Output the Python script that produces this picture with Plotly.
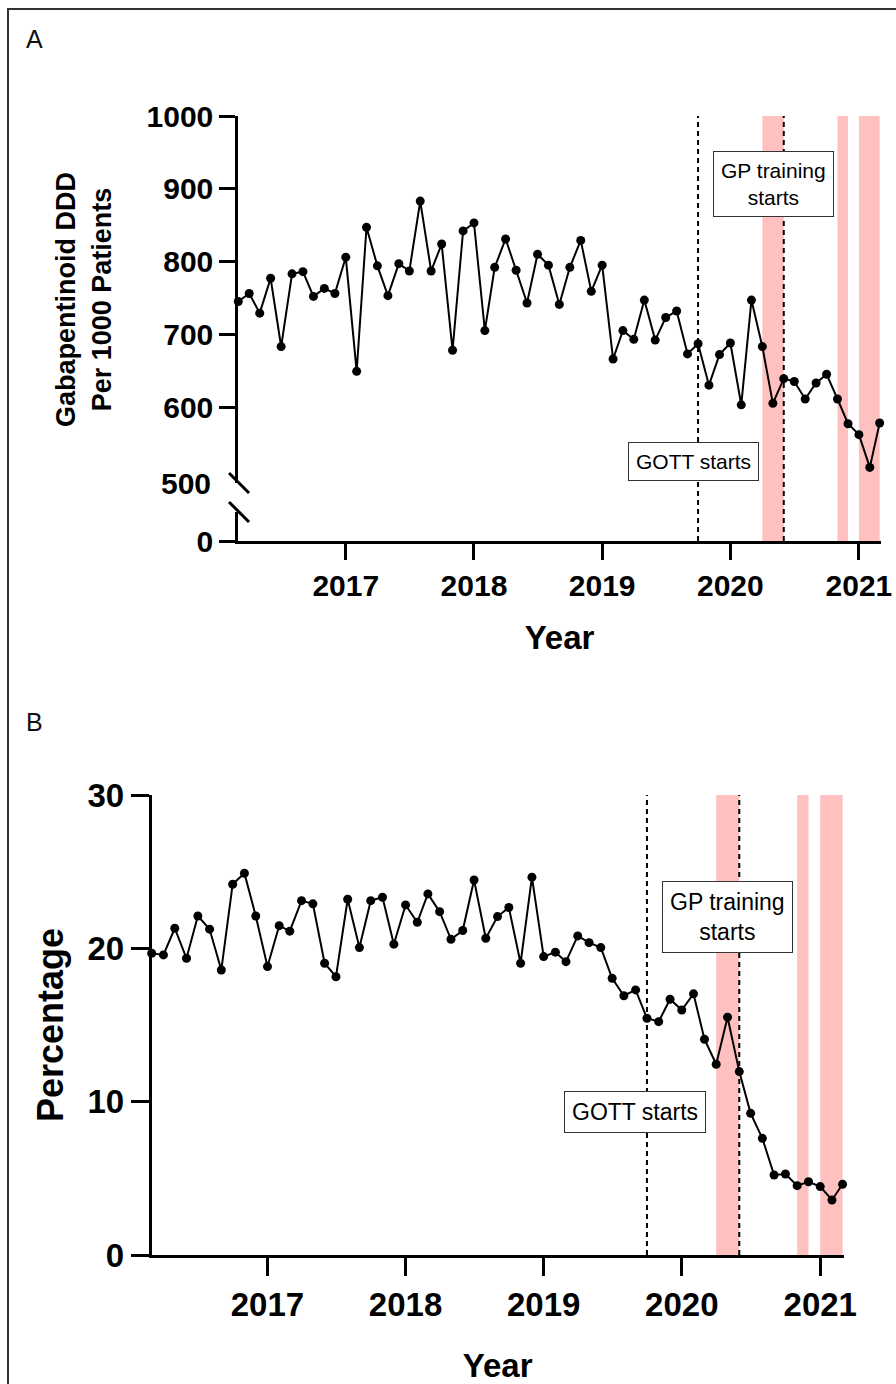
import pandas as pd
import plotly.graph_objects as go

# ---------------- data ----------------
months = pd.date_range("2016-03-01", "2021-03-01", freq="MS").strftime("%Y-%m-%d").tolist()

ddd_per_1000 = [745, 756, 729, 777, 683, 783, 786, 752, 763, 756, 806, 649,
                847, 794, 753, 797, 787, 883, 787, 824, 678, 842, 853, 705,
                792, 831, 788, 743, 810, 795, 741, 792, 829, 759, 795, 666,
                705, 693, 747, 692, 723, 732, 673, 687, 630, 672, 688, 603,
                747, 683, 605, 639, 635, 611, 633, 645, 611, 577, 562, 517, 578]

percentage = [19.68, 19.57, 21.31, 19.35, 22.11, 21.25, 18.59, 24.18, 24.90, 22.11,
              18.81, 21.48, 21.12, 23.11, 22.90, 19.03, 18.15, 23.20, 20.05, 23.11,
              23.33, 20.27, 22.83, 21.70, 23.55, 22.39, 20.59, 21.16, 24.46, 20.66,
              22.07, 22.66, 19.03, 24.64, 19.46, 19.75, 19.13, 20.81, 20.37, 20.05,
              18.05, 16.91, 17.29, 15.44, 15.22, 16.68, 15.98, 17.03, 14.07, 12.44,
              15.51, 11.96, 9.24, 7.61, 5.22, 5.28, 4.52, 4.78, 4.46, 3.59, 4.61]

year_ticks = ["2017-01-01", "2018-01-01", "2019-01-01", "2020-01-01", "2021-01-01"]
year_labels = ["2017", "2018", "2019", "2020", "2021"]

event_dates = ["2019-10-01", "2020-06-01"]          # GOTT starts, GP training starts
lockdowns = [("2020-04-01", "2020-06-01"),
             ("2020-11-01", "2020-12-01"),
             ("2021-01-01", "2021-03-01")]

ddd_ticks = [600, 700, 800, 900, 1000]
pct_ticks = [0, 10, 20, 30]

# ---------------- helpers (pixel -> paper) ----------------
W, H = 896, 1384
def X(p):
    return p / W
def Y(p):
    return 1 - p / H

FONT = "Liberation Sans, Arial, Helvetica, sans-serif"
XRANGE = ["2016-03-01", "2021-03-04"]

fig = go.Figure()

fig.add_trace(go.Scatter(
    x=months, y=ddd_per_1000, xaxis="x", yaxis="y",
    mode="lines+markers", line=dict(color="black", width=2),
    marker=dict(color="black", size=9), cliponaxis=False, showlegend=False))

# empty trace that registers the lower (0) segment of the broken axis in panel A
fig.add_trace(go.Scatter(x=[], y=[], xaxis="x", yaxis="y3", mode="markers",
                         showlegend=False))

fig.add_trace(go.Scatter(
    x=months, y=percentage, xaxis="x2", yaxis="y2",
    mode="lines+markers", line=dict(color="black", width=2),
    marker=dict(color="black", size=9), cliponaxis=False, showlegend=False))

axis_common = dict(showline=True, linecolor="black", linewidth=3, ticks="outside",
                   tickcolor="black", tickwidth=3, showgrid=False, zeroline=False,
                   fixedrange=True, automargin=False)

# Panel A axes (broken y axis)
A_PX_PER_UNIT = (407 - 116) / 400.0
fig.update_layout(
    xaxis=dict(domain=[X(238.3), X(880.7)], anchor="y3", type="date", range=XRANGE,
               tickvals=year_ticks, ticktext=year_labels, ticklen=16,
               tickfont=dict(family=FONT, size=30, color="black", weight="bold"),
               title=dict(text="Year", standoff=25,
                          font=dict(family=FONT, size=33, color="black", weight="bold")),
               **axis_common),
    yaxis=dict(domain=[Y(483), Y(116)], anchor="x",
               range=[1000 - (483 - 116) / A_PX_PER_UNIT, 1000],
               tickvals=ddd_ticks, ticklen=16, ticklabelstandoff=0,
               tickfont=dict(family=FONT, size=30, color="black", weight="bold"),
               title=dict(text="Gabapentinoid DDD<br>Per 1000 Patients", standoff=28,
                          font=dict(family=FONT, size=27, color="black", weight="bold")),
               **axis_common),
    yaxis3=dict(domain=[Y(541), Y(512)], anchor="x",
                range=[0, (541 - 512) / A_PX_PER_UNIT],
                tickvals=[0], ticklen=16, ticklabelstandoff=0,
                tickfont=dict(family=FONT, size=30, color="black", weight="bold"),
                **axis_common),
    xaxis2=dict(domain=[X(151.7), X(843.7)], anchor="y2", type="date", range=XRANGE,
                tickvals=year_ticks, ticktext=year_labels, ticklen=18,
                tickfont=dict(family=FONT, size=33, color="black", weight="bold"),
                title=dict(text="Year", standoff=35,
                           font=dict(family=FONT, size=33, color="black", weight="bold")),
                **axis_common),
    yaxis2=dict(domain=[Y(1255), Y(795)], anchor="x2", range=[0, 30],
                tickvals=pct_ticks, ticklen=18, ticklabelstandoff=0,
                tickfont=dict(family=FONT, size=33, color="black", weight="bold"),
                title=dict(text="Percentage", standoff=13,
                           font=dict(family=FONT, size=36, color="black", weight="bold")),
                **axis_common),
)

shapes = []
# outer frame
shapes.append(dict(type="rect", xref="paper", yref="paper", x0=X(8), x1=X(905),
                   y0=Y(9), y1=Y(1400), line=dict(color="#333333", width=2),
                   fillcolor="rgba(0,0,0,0)", layer="above"))

for xr, top, bot in (("x", 116, 541), ("x2", 795, 1255)):
    for a, b in lockdowns:
        shapes.append(dict(type="rect", xref=xr, yref="paper", x0=a, x1=b,
                           y0=Y(bot), y1=Y(top), fillcolor="#FFC0C0",
                           line=dict(width=0), layer="below"))
    for d in event_dates:
        shapes.append(dict(type="line", xref=xr, yref="paper", x0=d, x1=d,
                           y0=Y(bot), y1=Y(top),
                           line=dict(color="black", width=2, dash="5px,4px"),
                           layer="above"))

# axis break marks on panel A
for cy in (483, 512):
    shapes.append(dict(type="line", xref="paper", yref="paper",
                       x0=X(229), y0=Y(cy - 10), x1=X(249), y1=Y(cy + 10),
                       line=dict(color="black", width=3)))
fig.update_layout(shapes=shapes)

box = dict(bgcolor="white", bordercolor="#333333", borderwidth=1, borderpad=7,
           showarrow=False, xref="paper", yref="paper", xanchor="center", yanchor="middle")
annotations = [
    dict(text="GP training<br>starts", x=X(773.5), y=Y(183.5),
         font=dict(family=FONT, size=21, color="black"), **box),
    dict(text="GOTT starts", x=X(693.5), y=Y(461.5),
         font=dict(family=FONT, size=21, color="black"), **box),
    dict(text="GP training<br>starts", x=X(727.5), y=Y(917),
         font=dict(family=FONT, size=23, color="black"), **box),
    dict(text="GOTT starts", x=X(635), y=Y(1112),
         font=dict(family=FONT, size=23, color="black"), **box),
    dict(text="A", x=X(34.5), y=Y(39), xref="paper", yref="paper", showarrow=False,
         xanchor="center", yanchor="middle",
         font=dict(family=FONT, size=25, color="#111111")),
    dict(text="B", x=X(34.5), y=Y(722), xref="paper", yref="paper", showarrow=False,
         xanchor="center", yanchor="middle",
         font=dict(family=FONT, size=25, color="#111111")),
    # label for the axis-break value on panel A
    dict(text="500", x=X(213), y=Y(484), xref="paper", yref="paper", showarrow=False,
         xanchor="right", yanchor="middle",
         font=dict(family=FONT, size=30, color="black", weight="bold")),
]
fig.update_layout(annotations=annotations)

fig.update_layout(width=W, height=H,
                  margin=dict(l=0, r=0, t=0, b=0, pad=0, autoexpand=False),
                  paper_bgcolor="white", plot_bgcolor="white",
                  showlegend=False, hovermode=False)

fig.write_html("out.html",
               config={"displayModeBar": False, "staticPlot": True},
               post_script="document.body.style.margin='0px';"
                           "document.body.style.overflow='hidden';")
